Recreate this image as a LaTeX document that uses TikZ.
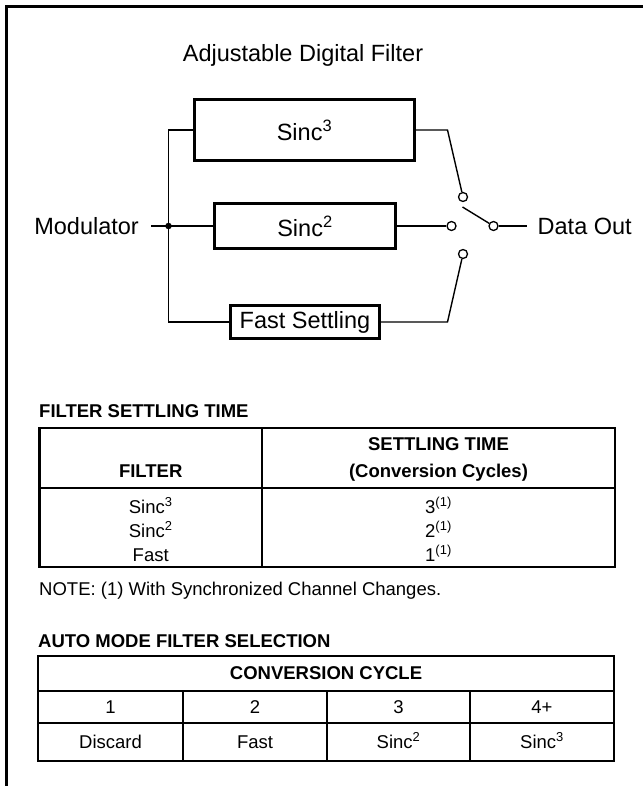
\documentclass[tikz,border=0pt]{standalone}
\usepackage{fontspec}
\setmainfont{Liberation Sans}
\begin{document}
\begin{tikzpicture}[x=1pt, y=-1pt, line join=miter,
	filterbox/.style={draw, line width=3pt, inner sep=0pt, font=\fontsize{23.5}{28}\selectfont},
	wire/.style={line width=1.4pt},
	pin/.style={circle, draw, line width=1.3pt, inner sep=0pt, minimum size=9pt, fill=white},
	big/.style={font=\fontsize{23.5}{28}\selectfont, inner sep=0pt},
	txt/.style={font=\fontsize{18.5}{22}\selectfont, inner sep=0pt, anchor=base},
	hdr/.style={font=\fontsize{18.5}{22}\selectfont\bfseries, inner sep=0pt, anchor=base},
	grid/.style={line width=2.2pt}]
	\useasboundingbox (0,0) rectangle (643,786);
	\draw[line width=2.8pt] (6.2,786) -- (6.2,6.5) -- (643,6.5);
	
	\node[big, anchor=base] (title) at (303,61.5) {Adjustable Digital Filter};
	\node[filterbox, minimum width=220pt, minimum height=61pt] (s3) at (304.5,130) {Sinc\textsuperscript{3}};
	\node[filterbox, minimum width=181pt, minimum height=44pt] (s2) at (305,226) {Sinc\textsuperscript{2}};
	\node[filterbox, minimum width=149pt, minimum height=33pt] (fs) at (305,322) {Fast Settling};
	
	\node[big, anchor=base east] (mod) at (139,234.5) {Modulator};
	\coordinate (modend) at (151,226);
	\node[circle, fill, inner sep=0pt, minimum size=6.5pt] (jn) at (168.5,226) {};
	\draw[wire] (modend) -- (jn.center) -- (s2.west);
	\draw[wire] (s3.west) -| (jn.center) |- (fs.west);
	
	\node[pin] (p3) at (463,197) {};
	\node[pin] (p2) at (451.5,226) {};
	\node[pin] (p1) at (463,254) {};
	\node[pin] (pout) at (493.5,226) {};
	\coordinate (k3) at (447.5,130);
	\coordinate (k1) at (447.5,322);
	\coordinate (arm) at (462.5,207);
	\coordinate (outend) at (527,226);
	\draw[wire] (s3.east) -- (k3) -- (p3);
	\draw[wire] (s2.east) -- (p2);
	\draw[wire] (fs.east) -- (k1) -- (p1);
	\draw[wire] (arm) -- (pout);
	\draw[wire] (pout) -- (outend);
	\node[big, anchor=base west] (dout) at (537.5,234.5) {Data Out};
	
	\node[hdr, anchor=base west] (t1title) at (39,417) {FILTER SETTLING TIME};
	\draw[grid] (39.4,428) rectangle (615,567);
	\draw[grid] (39.4,488) -- (615,488);
	\draw[grid] (262,428) -- (262,567);
	\node[hdr] (hfilter) at (150.7,477) {FILTER};
	\node[hdr] (hsettle) at (438.5,450) {SETTLING TIME};
	\node[hdr] (hcycles) at (438.5,477) {(Conversion Cycles)};
	\node[txt] (r3) at (150.7,513) {Sinc\textsuperscript{3}};
	\node[txt] (r2) at (150.7,537) {Sinc\textsuperscript{2}};
	\node[txt] (r1) at (150.7,561) {Fast};
	\node[txt] (v3) at (438.5,513) {3\textsuperscript{(1)}};
	\node[txt] (v2) at (438.5,537) {2\textsuperscript{(1)}};
	\node[txt] (v1) at (438.5,561) {1\textsuperscript{(1)}};
	\node[txt, anchor=base west] (note) at (39,595) {NOTE: (1) With Synchronized Channel Changes.};
	
	\node[hdr, anchor=base west] (t2title) at (38,647) {AUTO MODE FILTER SELECTION};
	\draw[grid] (38,656) rectangle (614,761);
	\draw[grid] (38,691) -- (614,691);
	\draw[grid] (38,723) -- (614,723);
	\foreach \x in {183,327,470}
		\draw[grid] (\x,691) -- (\x,761);
	\node[hdr] (hconv) at (326,679) {CONVERSION CYCLE};
	\foreach \x/\n/\f [count=\i] in {110.5/1/Discard, 255/2/Fast, 398.5/3/Sinc\textsuperscript{2}, 542/4+/Sinc\textsuperscript{3}}{
		\node[txt] (n\i) at (\x,713) {\n};
		\node[txt] (f\i) at (\x,748) {\f};
	}
\end{tikzpicture}
\end{document}
